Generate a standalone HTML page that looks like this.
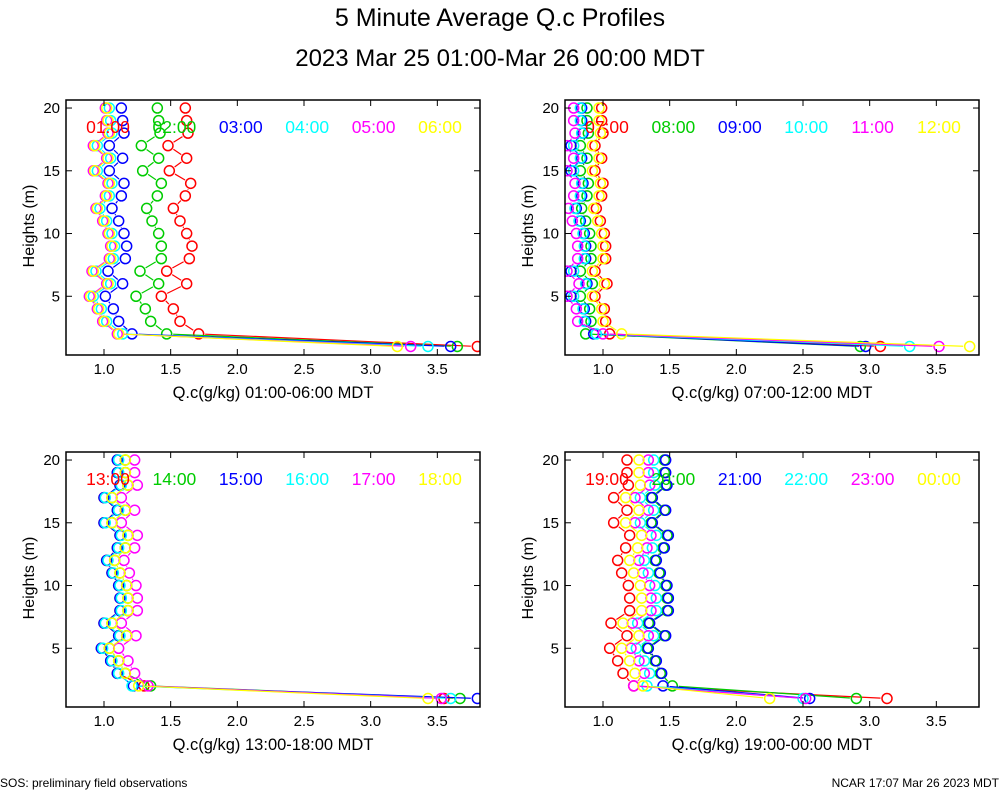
<!DOCTYPE html>
<html><head><meta charset="utf-8"><style>
body{margin:0;background:#fff;width:1000px;height:800px;overflow:hidden;font-family:"Liberation Sans",sans-serif}
</style></head><body>
<svg id="chart" width="1000" height="800" xmlns="http://www.w3.org/2000/svg" font-family="Liberation Sans, sans-serif">
<text x="500" y="26" font-size="25" text-anchor="middle">5 Minute Average Q.c Profiles</text>
<text x="500" y="66" font-size="24" text-anchor="middle">2023 Mar 25 01:00-Mar 26 00:00 MDT</text>
<text x="0" y="787" font-size="12">SOS: preliminary field observations</text>
<text x="999" y="787" font-size="12" text-anchor="end">NCAR 17:07 Mar 26 2023 MDT</text>
</svg>
<script>
// heights, top to bottom (20 m ... 1 m)
const heights = [20,19,18,17,16,15,14,13,12,11,10,9,8,7,6,5,4,3,2,1];
const xTicks = [1.0,1.5,2.0,2.5,3.0,3.5];
const yTicks = [5,10,15,20];
const colors = ["#ff0000","#00cc00","#0000ff","#00ffff","#ff00ff","#ffff00"];

const p1Labels = ["01:00","02:00","03:00","04:00","05:00","06:00"];
const p1Red = [1.61,1.62,1.63,1.48,1.62,1.49,1.65,1.61,1.52,1.57,1.62,1.66,1.64,1.47,1.62,1.43,1.52,1.57,1.71,3.80];
const p1Green = [1.40,1.41,1.42,1.28,1.41,1.29,1.43,1.40,1.32,1.36,1.41,1.43,1.43,1.27,1.41,1.24,1.31,1.35,1.47,3.65];
const p1Blue = [1.13,1.14,1.15,1.04,1.14,1.04,1.15,1.13,1.06,1.11,1.15,1.17,1.16,1.03,1.14,1.01,1.07,1.11,1.21,3.60];
const p1Cyan = [1.04,1.05,1.06,0.95,1.05,0.95,1.06,1.04,0.97,1.02,1.06,1.08,1.07,0.94,1.05,0.92,0.98,1.02,1.14,3.43];
const p1Magenta = [1.01,1.02,1.03,0.92,1.02,0.92,1.03,1.01,0.94,0.99,1.03,1.05,1.04,0.91,1.02,0.89,0.95,0.99,1.10,3.30];
const p1Yellow = [1.02,1.03,1.04,0.93,1.03,0.93,1.04,1.02,0.95,1.00,1.04,1.06,1.05,0.92,1.03,0.90,0.96,1.00,1.11,3.20];

const p2Labels = ["07:00","08:00","09:00","10:00","11:00","12:00"];
const p2Red = [0.99,0.99,1.00,0.94,0.99,0.94,1.00,0.99,0.95,0.98,1.01,1.02,1.02,0.94,1.03,0.94,1.01,1.02,1.05,3.08];
const p2Green = [0.88,0.88,0.89,0.83,0.88,0.83,0.89,0.88,0.84,0.87,0.90,0.91,0.91,0.83,0.92,0.83,0.90,0.91,0.87,2.93];
const p2Blue = [0.84,0.84,0.85,0.76,0.84,0.76,0.85,0.84,0.80,0.83,0.86,0.87,0.87,0.76,0.88,0.76,0.86,0.87,0.93,2.97];
const p2Cyan = [0.83,0.83,0.84,0.78,0.83,0.78,0.84,0.83,0.79,0.82,0.85,0.86,0.86,0.78,0.87,0.78,0.85,0.86,0.95,3.30];
const p2Magenta = [0.78,0.78,0.79,0.73,0.78,0.73,0.79,0.78,0.74,0.77,0.80,0.81,0.81,0.73,0.82,0.73,0.80,0.81,1.00,3.52];
const p2Yellow = [0.97,0.97,0.98,0.92,0.97,0.92,0.98,0.97,0.93,0.96,0.99,1.00,1.00,0.92,1.01,0.92,0.99,1.00,1.14,3.75];

const p3Labels = ["13:00","14:00","15:00","16:00","17:00","18:00"];
const p3Red = [1.10,1.10,1.12,1.00,1.10,1.00,1.12,1.10,1.02,1.06,1.11,1.12,1.12,1.00,1.11,0.98,1.05,1.10,1.30,3.55];
const p3Green = [1.16,1.16,1.18,1.06,1.16,1.06,1.18,1.16,1.08,1.12,1.17,1.18,1.18,1.06,1.17,1.04,1.11,1.16,1.35,3.67];
const p3Blue = [1.10,1.10,1.12,1.00,1.10,1.00,1.12,1.10,1.02,1.06,1.11,1.12,1.12,1.00,1.11,0.98,1.05,1.10,1.22,3.80];
const p3Cyan = [1.11,1.11,1.13,1.01,1.11,1.01,1.13,1.11,1.03,1.07,1.12,1.13,1.13,1.01,1.12,0.99,1.06,1.11,1.21,3.60];
const p3Magenta = [1.23,1.23,1.25,1.13,1.23,1.13,1.25,1.23,1.15,1.19,1.24,1.25,1.25,1.13,1.24,1.11,1.18,1.23,1.33,3.53];
const p3Yellow = [1.16,1.16,1.18,1.06,1.16,1.06,1.18,1.16,1.08,1.12,1.17,1.18,1.18,1.06,1.17,1.04,1.11,1.16,1.26,3.43];

const p4Labels = ["19:00","20:00","21:00","22:00","23:00","00:00"];
const p4Red = [1.18,1.18,1.19,1.08,1.18,1.08,1.20,1.17,1.11,1.14,1.19,1.20,1.20,1.06,1.18,1.05,1.11,1.15,1.23,3.13];
const p4Green = [1.46,1.46,1.47,1.36,1.46,1.36,1.48,1.45,1.39,1.42,1.47,1.48,1.48,1.34,1.46,1.33,1.39,1.43,1.52,2.90];
const p4Blue = [1.47,1.47,1.48,1.37,1.47,1.37,1.49,1.46,1.40,1.43,1.48,1.49,1.49,1.35,1.47,1.34,1.40,1.44,1.45,2.55];
const p4Cyan = [1.38,1.38,1.39,1.28,1.38,1.28,1.40,1.37,1.31,1.34,1.39,1.40,1.40,1.26,1.38,1.25,1.31,1.35,1.33,2.50];
const p4Magenta = [1.34,1.34,1.35,1.24,1.34,1.24,1.36,1.33,1.27,1.30,1.35,1.36,1.36,1.22,1.34,1.21,1.27,1.31,1.23,2.52];
const p4Yellow = [1.27,1.27,1.28,1.17,1.27,1.17,1.29,1.26,1.20,1.23,1.28,1.29,1.29,1.15,1.27,1.14,1.20,1.24,1.30,2.25];

const panels = [
 {x0:66,y0:100,labels:p1Labels,series:[p1Red,p1Green,p1Blue,p1Cyan,p1Magenta,p1Yellow],title:"Q.c(g/kg) 01:00-06:00 MDT"},
 {x0:565,y0:100,labels:p2Labels,series:[p2Red,p2Green,p2Blue,p2Cyan,p2Magenta,p2Yellow],title:"Q.c(g/kg) 07:00-12:00 MDT"},
 {x0:66,y0:452,labels:p3Labels,series:[p3Red,p3Green,p3Blue,p3Cyan,p3Magenta,p3Yellow],title:"Q.c(g/kg) 13:00-18:00 MDT"},
 {x0:565,y0:452,labels:p4Labels,series:[p4Red,p4Green,p4Blue,p4Cyan,p4Magenta,p4Yellow],title:"Q.c(g/kg) 19:00-00:00 MDT"}
];
const W=414,H=255,XMIN=0.715,XMAX=3.82,YMIN=0.32,YMAX=20.64,R=5,GAP=6.5;
const NS="http://www.w3.org/2000/svg";
const svg=document.getElementById('chart');
function mk(tag,attrs,parent){const e=document.createElementNS(NS,tag);for(const k in attrs)e.setAttribute(k,attrs[k]);(parent||svg).appendChild(e);return e;}
panels.forEach((p,pi)=>{
  const sx=v=>p.x0+(v-XMIN)/(XMAX-XMIN)*W;
  const sy=v=>p.y0+(YMAX-v)/(YMAX-YMIN)*H;
  const g=mk('g',{});
  
  
  const clipId='clip'+pi;
  const cp=mk('clipPath',{id:clipId},g);mk('rect',{x:p.x0,y:p.y0,width:W,height:H},cp);
  const plot=mk('g',{'clip-path':'url(#'+clipId+')'},g);
  p.series.forEach((vals,si)=>{
    const sg=mk('g',{},plot);
    
    
    for(let i=0;i<vals.length-1;i++){
      const x1=sx(vals[i]),y1=sy(heights[i]),x2=sx(vals[i+1]),y2=sy(heights[i+1]);
      const dx=x2-x1,dy=y2-y1,d=Math.hypot(dx,dy);
      if(d>2*GAP){
        const ux=dx/d,uy=dy/d;
        mk('line',{x1:x1+ux*GAP,y1:y1+uy*GAP,x2:x2-ux*GAP,y2:y2-uy*GAP,stroke:colors[si],'stroke-width':1.2},sg);
      }
    }
    vals.forEach((v,i)=>{
      const c=mk('circle',{cx:sx(v),cy:sy(heights[i]),r:R,fill:'none',stroke:colors[si],'stroke-width':1.5},sg);
      
      
    });
  });
  const box=mk('rect',{x:p.x0,y:p.y0,width:W,height:H,fill:'none',stroke:'#000','stroke-width':1.5},g);
  
  
  xTicks.forEach(t=>{
    const x=sx(t);
    mk('line',{x1:x,x2:x,y1:p.y0+H,y2:p.y0+H-6,stroke:'#000'},g);
    mk('line',{x1:x,x2:x,y1:p.y0,y2:p.y0+6,stroke:'#000'},g);
    const tl=mk('text',{x:x,y:p.y0+H+19,'font-size':15,'text-anchor':'middle'},g);
    tl.textContent=t.toFixed(1);
    
    
  });
  yTicks.forEach(t=>{
    const y=sy(t);
    mk('line',{x1:p.x0,x2:p.x0+6,y1:y,y2:y,stroke:'#000'},g);
    mk('line',{x1:p.x0+W,x2:p.x0+W-6,y1:y,y2:y,stroke:'#000'},g);
    const tl=mk('text',{x:p.x0-6,y:y+5,'font-size':15,'text-anchor':'end'},g);
    tl.textContent=t;
    
    
  });
  const xt=mk('text',{x:p.x0+W/2,y:p.y0+H+43,'font-size':16.5,'text-anchor':'middle'},g);
  xt.textContent=p.title;
  
  
  const yx=p.x0-32,yy=p.y0+126;
  const yt=mk('text',{x:yx,y:yy,'font-size':16,'text-anchor':'middle',transform:'rotate(-90 '+yx+' '+yy+')'},g);
  yt.textContent='Heights (m)';
  
  
  p.labels.forEach((l,si)=>{
    const lt=mk('text',{x:p.x0+42+si*66.4,y:p.y0+33,'font-size':17.5,'text-anchor':'middle',fill:colors[si]},g);
    lt.textContent=l;
    
    
  });
});
</script>
</body></html>
